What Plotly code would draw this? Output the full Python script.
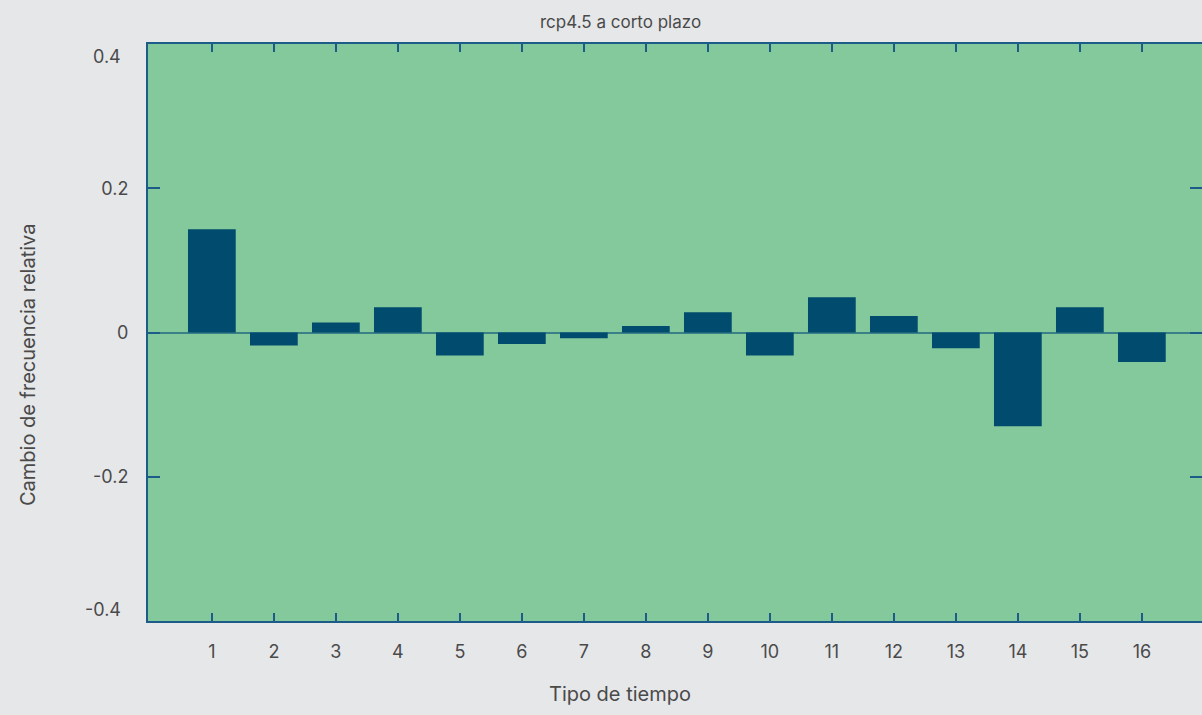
import plotly.graph_objects as go

categories = list(range(1, 17))
values = [0.143, -0.018, 0.014, 0.035, -0.032, -0.016, -0.008, 0.009,
          0.028, -0.032, 0.049, 0.023, -0.022, -0.130, 0.035, -0.041]
y_ticks = [-0.4, -0.2, 0, 0.2, 0.4]
y_ticktext = ["-0.4", "-0.2", "0", "0.2", "0.4"]

title_text = "rcp4.5 a corto plazo"
x_title = "Tipo de tiempo"
y_title = "Cambio de frecuencia relativa"

W, H = 1202, 715
L, R, T, B = 148, 0, 44, 94
PL, PR, PT, PB = 148, 1202, 44, 621

def px_x(p):
    return (p - PL) / (PR - PL)

def px_y(p):
    return (PB - p) / (PB - PT)

font_family = "Inter, Liberation Sans, Arial, sans-serif"
text_color = "#4a4a4a"
axis_color = "#1d5b88"

fig = go.Figure()
fig.add_trace(go.Bar(
    x=categories, y=values, width=0.77,
    marker=dict(color="#004b6e", line=dict(width=0)),
    hoverinfo="x+y",
))

fig.update_layout(
    width=W, height=H,
    margin=dict(l=L, r=R, t=T, b=B, autoexpand=False),
    paper_bgcolor="#e6e7e9",
    plot_bgcolor="#84c99b",
    showlegend=False,
    font=dict(family=font_family, color=text_color, size=18),
    xaxis=dict(
        range=[-0.03, 16.97],
        tickvals=categories,
        ticktext=[str(c) for c in categories],
        ticks="inside", ticklen=8, tickwidth=2, tickcolor=axis_color,
        showline=True, linecolor=axis_color, linewidth=2, mirror="ticks",
        showgrid=False, zeroline=False,
        ticklabelstandoff=13,
        tickfont=dict(size=18, color=text_color),
    ),
    yaxis=dict(
        range=[-0.4, 0.4],
        tickvals=y_ticks[1:-1],
        ticktext=y_ticktext[1:-1],
        ticks="inside", ticklen=12, tickwidth=2, tickcolor=axis_color,
        showline=True, linecolor=axis_color, linewidth=2, mirror="ticks",
        showgrid=False,
        zeroline=True, zerolinecolor="#3a8088", zerolinewidth=2,
        ticklabelstandoff=14,
        tickfont=dict(size=18, color=text_color),
    ),
)

annotations = [
    dict(text=title_text, x=px_x(620), y=px_y(22), xref="paper", yref="paper",
         showarrow=False, font=dict(size=17, color=text_color),
         xanchor="center", yanchor="middle"),
    dict(text=x_title, x=px_x(620), y=px_y(694), xref="paper", yref="paper",
         showarrow=False, font=dict(size=20, color=text_color),
         xanchor="center", yanchor="middle"),
    dict(text=y_title, x=px_x(28), y=px_y(365), xref="paper", yref="paper",
         showarrow=False, textangle=-90, font=dict(size=20, color=text_color),
         xanchor="center", yanchor="middle"),
    dict(text=y_ticktext[-1], x=px_x(123), y=y_ticks[-1], xref="paper", yref="y",
         yshift=-12, showarrow=False, font=dict(size=18, color=text_color),
         xanchor="right", yanchor="middle"),
    dict(text=y_ticktext[0], x=px_x(123), y=y_ticks[0], xref="paper", yref="y",
         yshift=12, showarrow=False, font=dict(size=18, color=text_color),
         xanchor="right", yanchor="middle"),
]
fig.update_layout(annotations=annotations)

fig.write_html(
    "out.html",
    config={"displayModeBar": False},
    post_script="document.body.style.margin='0';document.body.style.overflow='hidden';",
)
